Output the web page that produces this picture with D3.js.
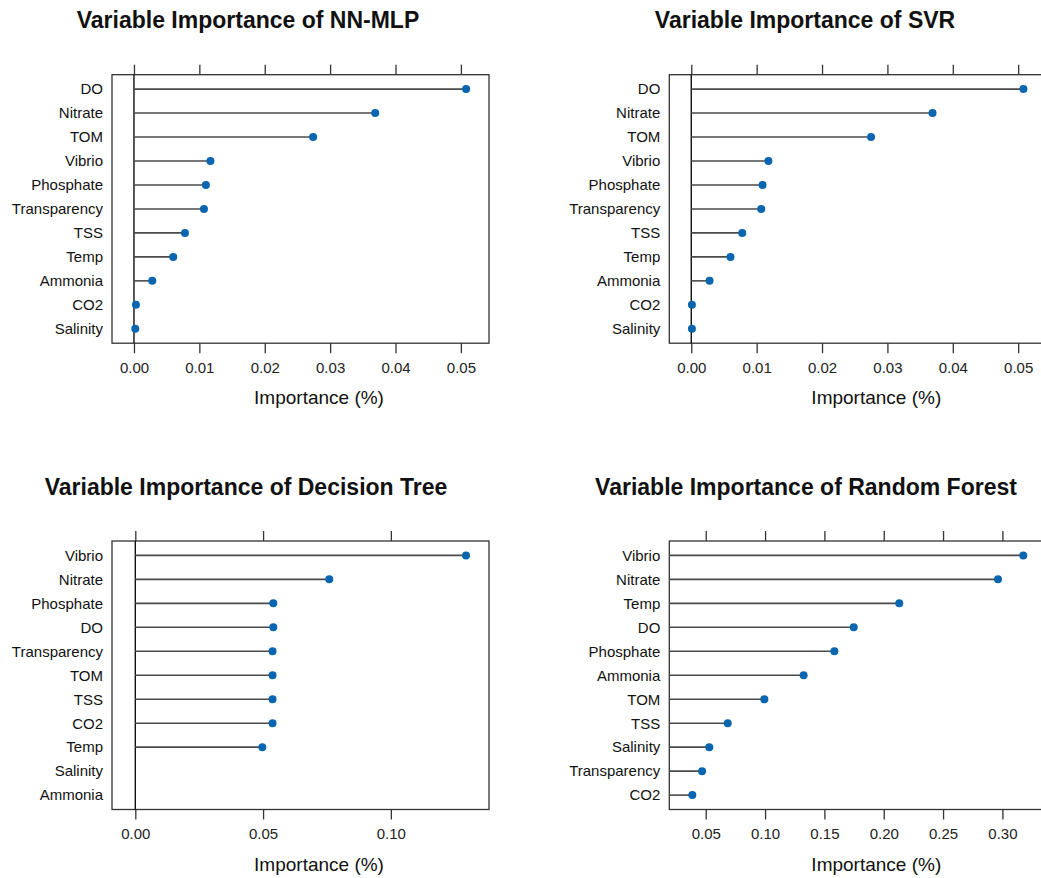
<!DOCTYPE html>
<html>
<head>
<meta charset="utf-8">
<script src="https://cdn.jsdelivr.net/npm/d3@7"></script>
<style>
  body { margin: 0; background: #fff; }
  svg { display: block; font-family: "Liberation Sans", Arial, sans-serif; }
</style>
</head>
<body>
<div id="chart"></div>
<script>
// variable importance
const nnVars = ["DO", "Nitrate", "TOM", "Vibrio", "Phosphate", "Transparency", "TSS", "Temp", "Ammonia", "CO2", "Salinity"];
const nnVals = [0.0508, 0.0369, 0.0274, 0.0117, 0.0110, 0.0107, 0.0078, 0.0060, 0.0028, 0.0003, 0.0002];

const svrVars = ["DO", "Nitrate", "TOM", "Vibrio", "Phosphate", "Transparency", "TSS", "Temp", "Ammonia", "CO2", "Salinity"];
const svrVals = [0.0508, 0.0369, 0.0275, 0.0118, 0.0109, 0.0107, 0.0078, 0.0060, 0.0028, 0.0001, 0.0001];

const dtVars = ["Vibrio", "Nitrate", "Phosphate", "DO", "Transparency", "TOM", "TSS", "CO2", "Temp", "Salinity", "Ammonia"];
const dtVals = [0.1294, 0.0759, 0.0540, 0.0540, 0.0537, 0.0537, 0.0537, 0.0537, 0.0497, null, null];

const rfVars = ["Vibrio", "Nitrate", "Temp", "DO", "Phosphate", "Ammonia", "TOM", "TSS", "Salinity", "Transparency", "CO2"];
const rfVals = [0.3176, 0.2963, 0.2131, 0.1747, 0.1584, 0.1325, 0.0994, 0.0685, 0.0530, 0.0469, 0.0387];

const smallTicks = [0, 0.01, 0.02, 0.03, 0.04, 0.05];
const dtTicks = [0, 0.05, 0.10];
const rfTicks = [0.05, 0.10, 0.15, 0.20, 0.25, 0.30];

const W = 1041, H = 878;
const svg = d3.select("#chart").append("svg").attr("width", W).attr("height", H);

const panels = [
  { title: "Variable Importance of NN-MLP", vars: nnVars, vals: nnVals, ticks: smallTicks,
    dom: [-0.00336, 0.0543], left: 112, top: 74.7, titleX: 248, titleY: 28 },
  { title: "Variable Importance of SVR", vars: svrVars, vals: svrVals, ticks: smallTicks,
    dom: [-0.00336, 0.0543], left: 669.3, top: 74.7, titleX: 805, titleY: 28 },
  { title: "Variable Importance of Decision Tree", vars: dtVars, vals: dtVals, ticks: dtTicks,
    dom: [-0.00912, 0.1384], left: 112, top: 541, titleX: 246, titleY: 495 },
  { title: "Variable Importance of Random Forest", vars: rfVars, vals: rfVals, ticks: rfTicks,
    dom: [0.0193, 0.337], left: 669.3, top: 541, titleX: 806, titleY: 495 }
];

const boxW = 377, boxH = 268.5;
const fmt = d3.format(".2f");

panels.forEach(p => {
  const g = svg.append("g").attr("transform", `translate(${p.left},${p.top})`);

  const x = d3.scaleLinear().domain(p.dom).range([0, boxW]);
  const y = d3.scalePoint().domain(p.vars).range([0, boxH]).padding(0.6);

  svg.append("text")
    .attr("x", p.titleX).attr("y", p.titleY)
    .attr("text-anchor", "middle")
    .attr("font-size", 23).attr("font-weight", "bold")
    .attr("fill", "#111")
    .text(p.title);

  // top ticks (no labels)
  const top = g.append("g").call(d3.axisTop(x).tickValues(p.ticks).tickSize(10).tickFormat(""));
  top.select(".domain").remove();
  top.selectAll("line").attr("stroke", "#333").attr("stroke-width", 1.3);

  const bot = g.append("g").attr("transform", `translate(0,${boxH})`)
    .call(d3.axisBottom(x).tickValues(p.ticks).tickSize(10).tickPadding(9).tickFormat(fmt));
  bot.select(".domain").remove();
  bot.selectAll("line").attr("stroke", "#333").attr("stroke-width", 1.3);
  bot.selectAll("text").attr("font-size", 15).attr("fill", "#222")
    .attr("font-family", "Liberation Sans, Arial, sans-serif");

  const lab = g.append("g").call(d3.axisLeft(y).tickSize(0).tickPadding(9));
  lab.select(".domain").remove();
  lab.selectAll("text").attr("font-size", 15).attr("fill", "#111")
    .attr("font-family", "Liberation Sans, Arial, sans-serif");

  g.append("rect")
    .attr("width", boxW).attr("height", boxH)
    .attr("fill", "none").attr("stroke", "#333").attr("stroke-width", 1.3);

  if (p.dom[0] < 0) {
    g.append("line")
      .attr("x1", x(0)).attr("x2", x(0))
      .attr("y1", 0).attr("y2", boxH)
      .attr("stroke", "#111").attr("stroke-width", 1.4);
  }

  const base = Math.max(x(0), 0);
  const rows = p.vars.map((v, i) => ({ name: v, value: p.vals[i] })).filter(d => d.value != null);

  g.selectAll(".stem").data(rows).enter().append("line")
    .attr("x1", base).attr("x2", d => x(d.value))
    .attr("y1", d => y(d.name)).attr("y2", d => y(d.name))
    .attr("stroke", "#4a4a4a").attr("stroke-width", 1.6);

  g.selectAll(".dot").data(rows).enter().append("circle")
    .attr("cx", d => x(d.value)).attr("cy", d => y(d.name))
    .attr("r", 4).attr("fill", "#0865b0");

  g.append("text")
    .attr("x", 207).attr("y", boxH + 61)
    .attr("text-anchor", "middle")
    .attr("font-size", 19).attr("fill", "#111")
    .text("Importance (%)");
});
</script>
</body>
</html>
